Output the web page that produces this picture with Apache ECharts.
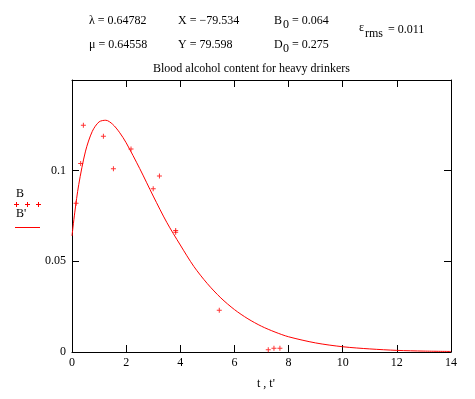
<!DOCTYPE html>
<html>
<head>
<meta charset="utf-8">
<script src="https://cdn.jsdelivr.net/npm/echarts@6/dist/echarts.min.js"></script>
<style>
  html, body { margin: 0; padding: 0; background: #fff; }
  #main { width: 475px; height: 399px; }
</style>
</head>
<body>
<div id="main"></div>
<script>
// measured blood alcohol samples (t, B)
var sampleT = [0.15, 0.32, 0.42, 1.16, 1.53, 2.18, 3.0, 3.23, 3.83, 3.83, 5.44, 7.25, 7.46, 7.68];
var sampleB = [0.082, 0.104, 0.125, 0.119, 0.101, 0.112, 0.090, 0.097, 0.067, 0.066, 0.023, 0.0012, 0.002, 0.002];

// fitted curve (t', B')
var curveT = [0, 0.1, 0.25, 0.5, 0.75, 1, 1.25, 1.5, 1.75, 2, 2.5, 3, 3.5, 4, 4.5, 5, 5.5, 6, 6.5, 7, 7.5, 8, 9, 10, 11, 12, 13, 14];
var curveB = [0.064, 0.0767, 0.0924, 0.1108, 0.1217, 0.1269, 0.1278, 0.1256, 0.1212, 0.1154, 0.1012, 0.0860, 0.0715, 0.0590, 0.0472, 0.0377, 0.0298, 0.0234, 0.0183, 0.0142, 0.0110, 0.0084, 0.0050, 0.0029, 0.0017, 0.0009, 0.0005, 0.0003];

var yTicks = ['0', '0.05', '0.1'];

var FONT = 'Liberation Serif';
var RED = '#ff0000';

function pairs(xs, ys) {
  return xs.map(function (x, i) { return [x, ys[i]]; });
}

function txt(x, y, s, size) {
  return {
    type: 'text', x: x, y: y,
    style: { text: s, fill: '#000', font: (size || 12) + 'px "' + FONT + '"' }
  };
}

// small "+" marker for the legend
function cross(x, y) {
  return [
    { type: 'rect', shape: { x: x, y: y + 2, width: 5, height: 1 }, style: { fill: RED } },
    { type: 'rect', shape: { x: x + 2, y: y, width: 1, height: 5 }, style: { fill: RED } }
  ];
}

var chart = echarts.init(document.getElementById('main'));

var plus = 'path://M2,0H3V2H5V3H3V5H2V3H0V2H2Z';

var axisCommon = {
  type: 'value',
  axisLine: { show: true, onZero: false, lineStyle: { color: '#000', width: 1 } },
  axisTick: { show: true, inside: true, length: 7, lineStyle: { color: '#000' } },
  splitLine: { show: false }
};

var option = {
  animation: false,
  grid: { left: 72, right: 24, top: 80, bottom: 47 },
  xAxis: [
    Object.assign({}, axisCommon, {
      min: 0, max: 14, interval: 2,
      axisLabel: { color: '#000', fontFamily: FONT, fontSize: 12, margin: 5 }
    }),
    Object.assign({}, axisCommon, {
      position: 'top', min: 0, max: 14, interval: 2,
      axisLabel: { show: false }
    })
  ],
  yAxis: [
    Object.assign({}, axisCommon, {
      min: 0, max: 0.15, interval: 0.05,
      axisLabel: {
        color: '#000', fontFamily: FONT, fontSize: 12, margin: 6,
        formatter: function (v) {
          var i = Math.round(v / 0.05);
          return i < yTicks.length ? yTicks[i] : '';
        }
      }
    }),
    Object.assign({}, axisCommon, {
      position: 'right', min: 0, max: 0.15, interval: 0.05,
      axisLabel: { show: false }
    })
  ],
  series: [{
    name: 'B',
    type: 'scatter',
    data: pairs(sampleT, sampleB),
    symbol: plus,
    symbolSize: 5,
    itemStyle: { color: RED }
  }, {
    name: "B'",
    type: 'line',
    data: pairs(curveT, curveB),
    smooth: 0.3,
    showSymbol: false,
    lineStyle: { color: RED, width: 1 }
  }],
  graphic: [].concat(
    [
      // parameter block
      txt(89, 15, 'λ = 0.64782'),
      txt(178, 15, 'X = \u221279.534'),
      txt(274, 15, 'B'),
      txt(283, 19, '0'),
      txt(292, 15, '= 0.064'),
      txt(89, 39, 'μ = 0.64558'),
      txt(178, 39, 'Y = 79.598'),
      txt(274, 39, 'D'),
      txt(283, 43, '0'),
      txt(292, 39, '= 0.275'),
      txt(359, 22, 'ε'),
      txt(365, 28, 'rms'),
      txt(388, 24, '= 0.011'),
      // title and axis name
      txt(153, 63, 'Blood alcohol content for heavy drinkers'),
      txt(257, 378, "t , t'"),
      // legend
      txt(16, 188, 'B'),
      txt(16, 208, "B'"),
      {
        type: 'line', shape: { x1: 15, y1: 227.5, x2: 40, y2: 227.5 },
        style: { stroke: RED, lineWidth: 1 }
      }
    ],
    cross(14, 202), cross(25, 202), cross(36, 202)
  )
};

chart.setOption(option);
</script>
</body>
</html>
